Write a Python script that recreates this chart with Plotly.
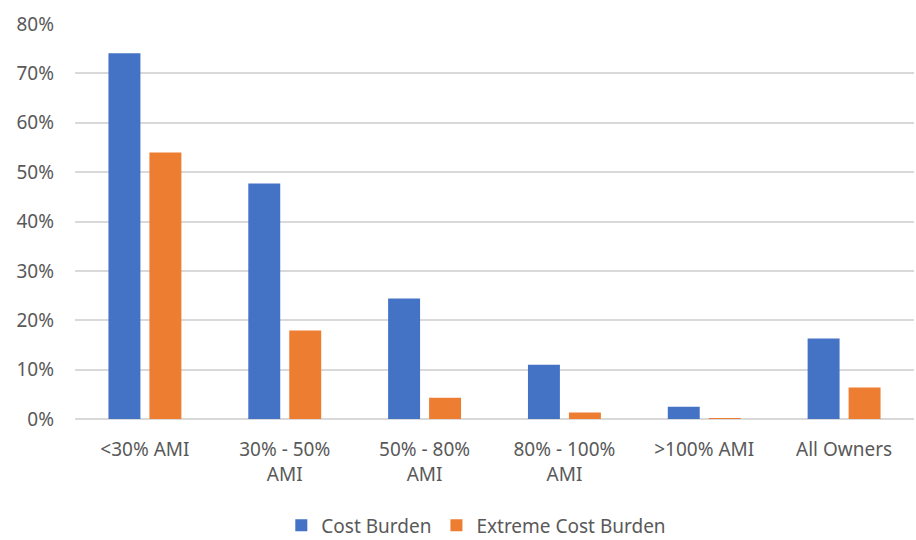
import plotly.graph_objects as go

categories = ["<30% AMI", "30% - 50%<br>AMI", "50% - 80%<br>AMI", "80% - 100%<br>AMI", ">100% AMI", "All Owners"]
cost_burden = [0.741, 0.477, 0.244, 0.110, 0.025, 0.163]
extreme_cost_burden = [0.540, 0.179, 0.043, 0.013, 0.002, 0.064]
y_ticks = [0, 0.1, 0.2, 0.3, 0.4, 0.5, 0.6, 0.7, 0.8]

FONT = "Noto Sans"
GRAY = "#595959"
FS = 19

fig = go.Figure()
fig.add_trace(go.Bar(x=categories, y=cost_burden, name="Cost Burden",
                     marker=dict(color="#4472C4", line=dict(width=0))))
fig.add_trace(go.Bar(x=categories, y=extreme_cost_burden, name="Extreme Cost Burden",
                     marker=dict(color="#ED7D31", line=dict(width=0))))

fig.update_layout(
    width=916, height=540,
    margin=dict(l=75, r=2, t=24, b=121, autoexpand=False),
    paper_bgcolor="white", plot_bgcolor="white",
    barmode="group", bargap=0.414, bargroupgap=0.22,
    font=dict(family=FONT, size=FS, color=GRAY),
    showlegend=True,
    legend=dict(orientation="h", xref="container", yref="container",
                x=0.52, y=0.027, xanchor="center", yanchor="middle",
                font=dict(family=FONT, size=FS, color=GRAY),
                itemwidth=30, traceorder="normal"),
    xaxis=dict(showgrid=False, showline=False, ticks="", ticklabelstandoff=17,
               automargin=False,
               tickfont=dict(family=FONT, size=FS, color=GRAY)),
    yaxis=dict(range=[0, 0.8], tickvals=y_ticks, tickformat=".0%",
               showgrid=True, gridcolor="#D9D9D9", gridwidth=1.5,
               zeroline=True, zerolinecolor="#D9D9D9", zerolinewidth=1.5,
               showline=False, ticks="", ticklabelstandoff=20,
               automargin=False,
               tickfont=dict(family=FONT, size=FS, color=GRAY)),
)

fig.write_html("out.html")
